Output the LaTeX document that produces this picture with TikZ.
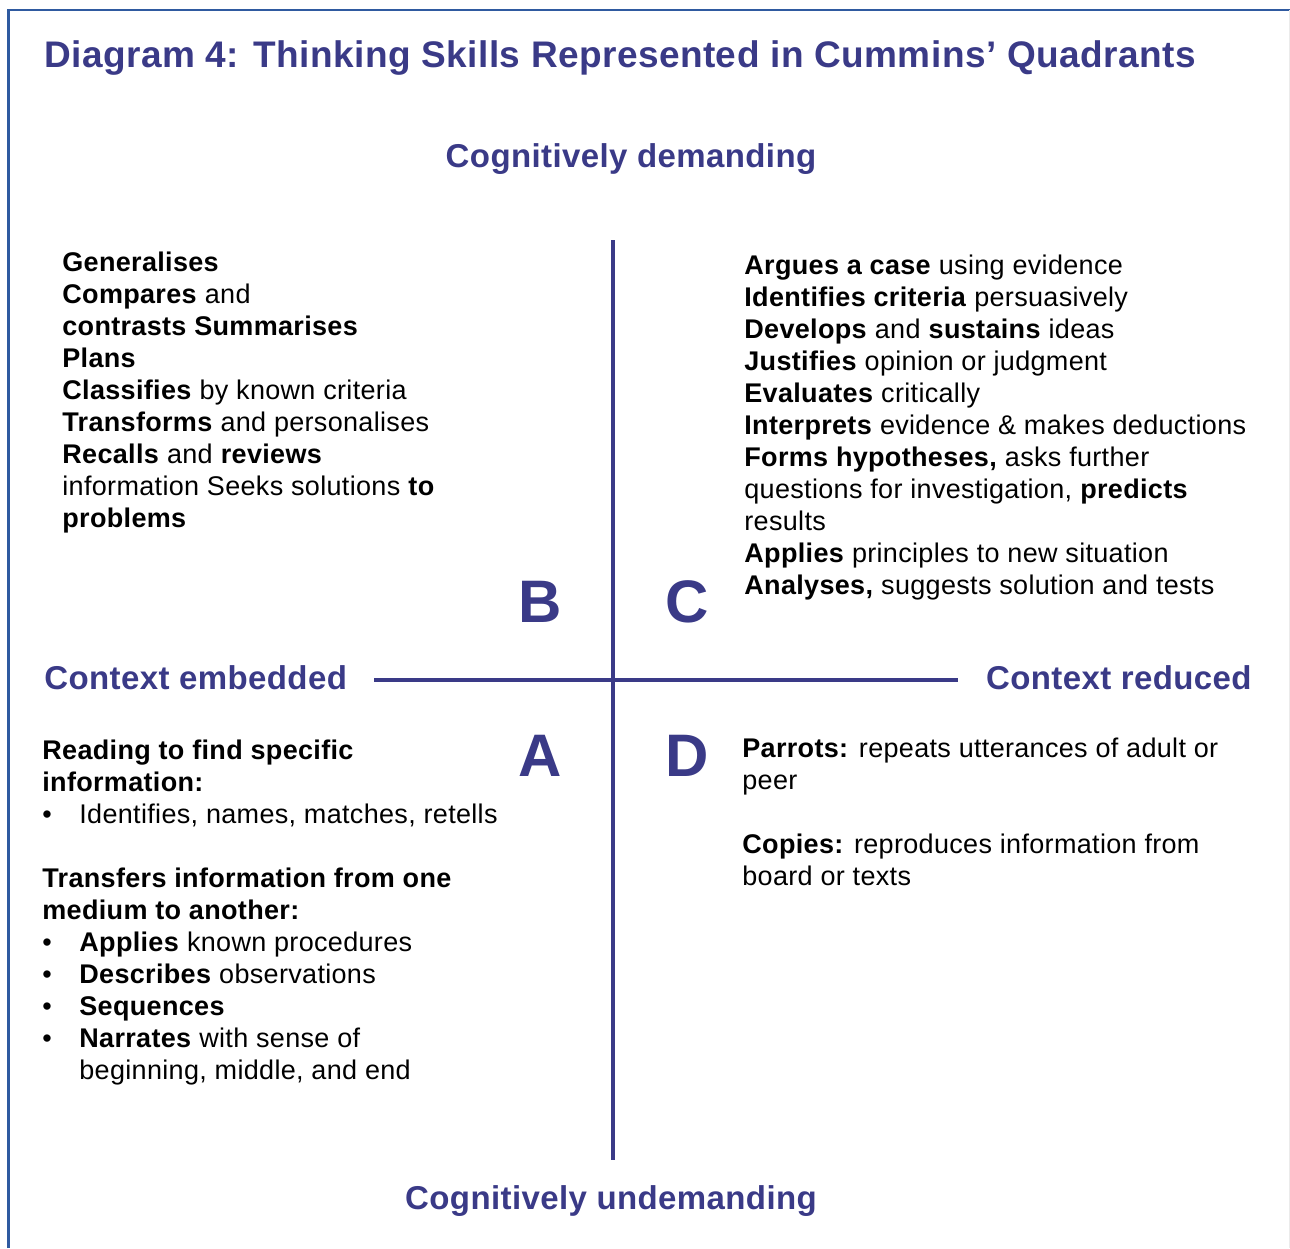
\documentclass[tikz,border=0pt]{standalone}
\usepackage{fontspec}
\setmainfont[LetterSpace=1.2]{Liberation Sans}
\usepackage{xcolor}
\usetikzlibrary{calc}

\definecolor{quadblue}{RGB}{58,58,135}
\definecolor{frameblue}{RGB}{47,90,160}

\tikzset{
  axislabel/.style={text=quadblue, font=\fontsize{16.5}{20}\selectfont\bfseries, inner sep=0pt},
  quadletter/.style={text=quadblue, font=\fontsize{30}{36}\selectfont\bfseries, inner sep=0pt},
  skills/.style={align=left, inner sep=0pt, anchor=north west, font=\fontsize{13.5}{16}\selectfont},
  axisline/.style={quadblue, line width=2pt}
}

\newcommand{\bul}{\makebox[18.5pt][l]{\textbullet}}

\begin{document}
\begin{tikzpicture}[x=0.5pt,y=-0.5pt]

      \useasboundingbox (0,0) rectangle (1290,1248);

      % frame
      \draw[frameblue, line width=1.3pt] (8.5,1248) -- (8.5,10) -- (1290,10);
      \draw[black!8, line width=0.5pt] (1289,10) -- (1289,1248);

      \node[anchor=base west, text=quadblue, inner sep=0pt,
            font=\fontsize{18.5}{22}\selectfont\bfseries] (title) at (44,67)
        {Diagram 4: Thinking Skills Represented in Cummins’ Quadrants};

      % the two axes
      \coordinate (top) at (613,240);
      \coordinate (bottom) at (613,1160);
      \coordinate (left) at (374,680);
      \coordinate (right) at (958,680);
      \draw[axisline] (top) -- (bottom);
      \draw[axisline] (left) -- (right);

      \node[axislabel, anchor=base] (demanding) at (631,167) {Cognitively demanding};
      \node[axislabel, anchor=base] (undemanding) at (611,1209) {Cognitively undemanding};
      \node[axislabel, anchor=base west] (embedded) at (44,689) {Context embedded};
      \node[axislabel, anchor=base east] (reduced) at (1252,689) {Context reduced};

      \node[quadletter] (B) at (540,602) {B};
      \node[quadletter] (C) at (687,602) {C};
      \node[quadletter] (A) at (540,756) {A};
      \node[quadletter] (D) at (687,756) {D};

      % quadrant B
      \node[skills] (skillsB) at (62,252) {%
        \textbf{Generalises}\\
        \textbf{Compares} and\\
        \textbf{contrasts Summarises}\\
        \textbf{Plans}\\
        \textbf{Classifies} by known criteria\\
        \textbf{Transforms} and personalises\\
        \textbf{Recalls} and \textbf{reviews}\\
        information Seeks solutions \textbf{to}\\
        \textbf{problems}};

      % quadrant C
      \node[skills] (skillsC) at (744,255) {%
        \textbf{Argues a case} using evidence\\
        \textbf{Identifies criteria} persuasively\\
        \textbf{Develops} and \textbf{sustains} ideas\\
        \textbf{Justifies} opinion or judgment\\
        \textbf{Evaluates} critically\\
        \textbf{Interprets} evidence \& makes deductions\\
        \textbf{Forms hypotheses,} asks further\\
        questions for investigation, \textbf{predicts}\\
        results\\
        \textbf{Applies} principles to new situation\\
        \textbf{Analyses,} suggests solution and tests};

      % quadrant A
      \node[skills] (skillsA) at (42,740) {%
        \textbf{Reading to find specific}\\
        \textbf{information:}\\
        \bul Identifies, names, matches, retells\\[16pt]
        \textbf{Transfers information from one}\\
        \textbf{medium to another:}\\
        \bul\textbf{Applies} known procedures\\
        \bul\textbf{Describes} observations\\
        \bul\textbf{Sequences}\\
        \bul\textbf{Narrates} with sense of\\
        \hspace*{18.5pt}beginning, middle, and end};

      % quadrant D
      \node[skills] (skillsD) at (742,738) {%
        \textbf{Parrots:} repeats utterances of adult or\\
        peer\\[16pt]
        \textbf{Copies:} reproduces information from\\
        board or texts};

    \end{tikzpicture}
\end{document}
